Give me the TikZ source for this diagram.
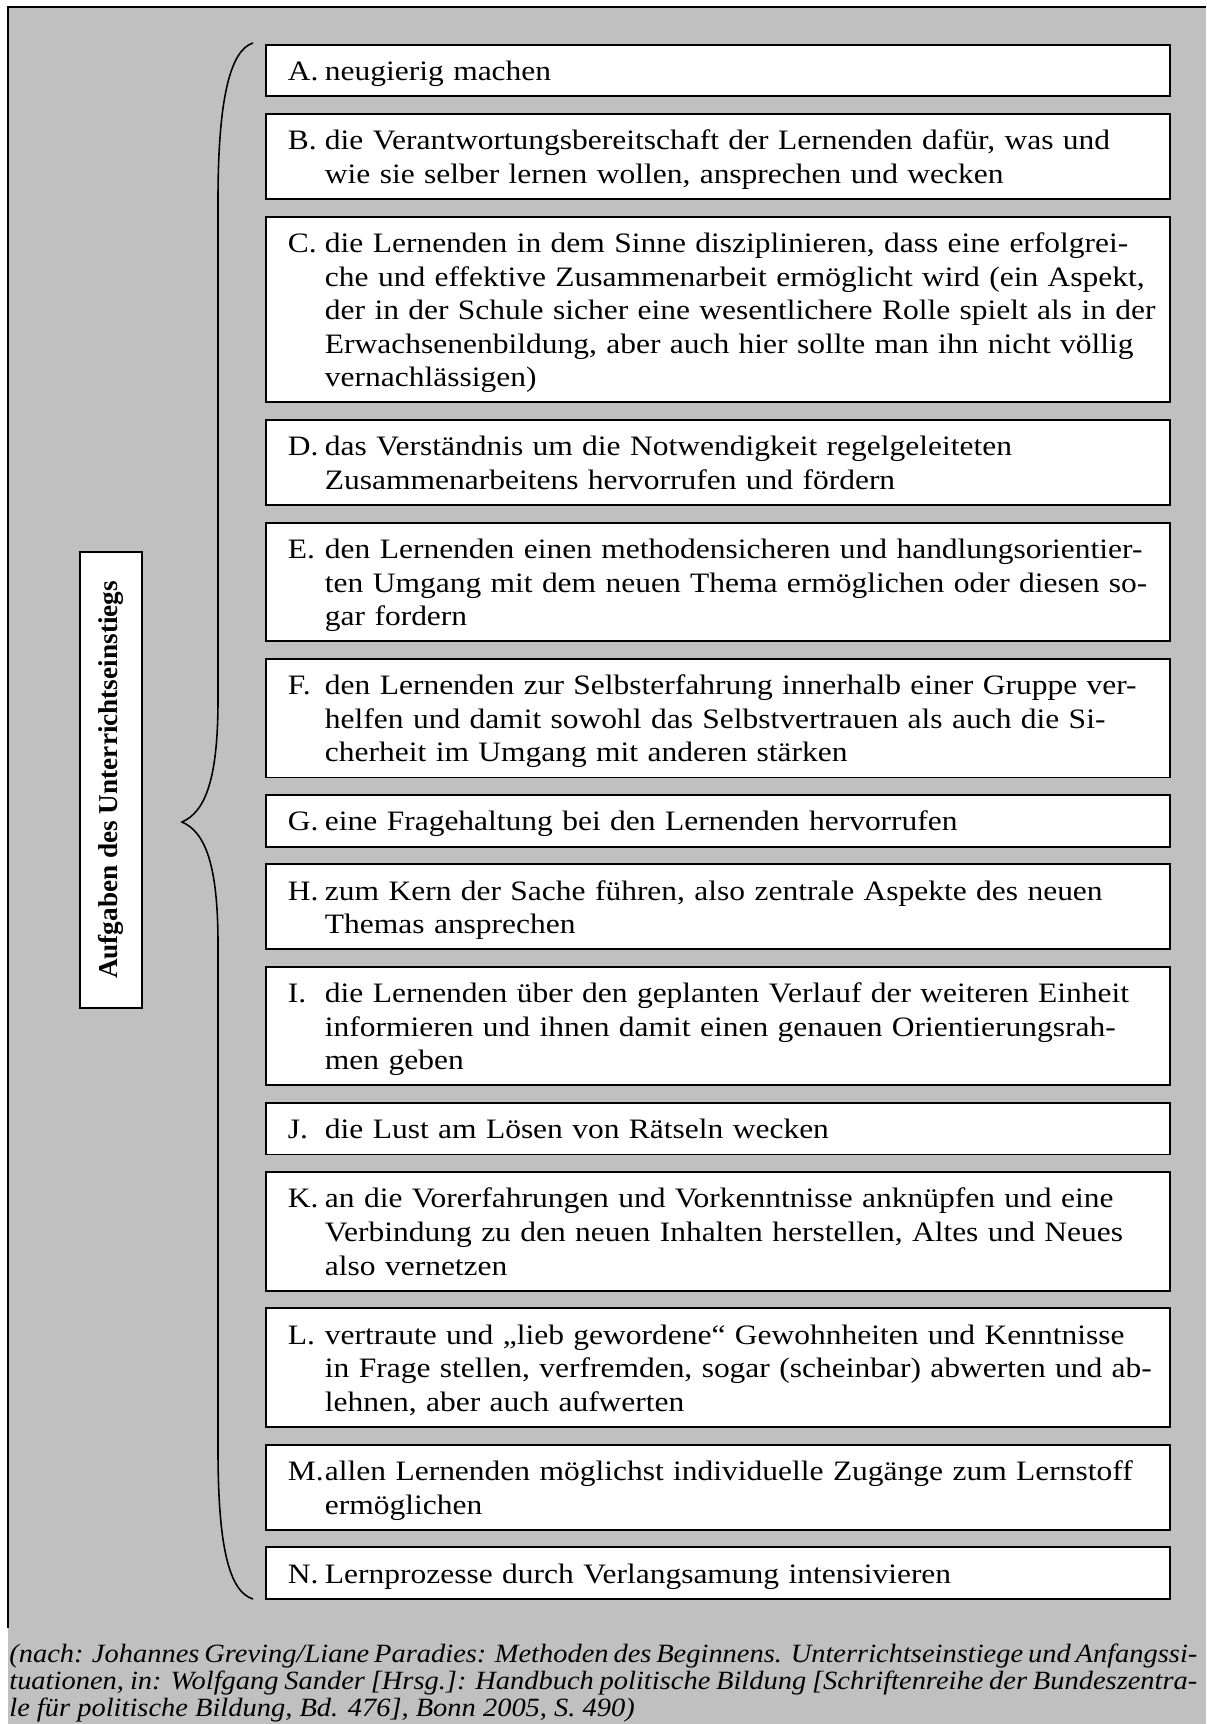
\documentclass[tikz,border=0pt]{standalone}
\usepackage{fontspec}
\setmainfont{Liberation Serif}[FakeStretch=1.12]
\newfontfamily\titelfont{Liberation Serif}
\newfontfamily\quellfont{Liberation Serif}[FakeStretch=1.08]
\usetikzlibrary{positioning}
\definecolor{hgrau}{RGB}{192,192,192}

\newlength\einzug
\setlength\einzug{0.74cm}
\newcommand\stuetze{\rule[-0.2\baselineskip]{0pt}{\baselineskip}}
\newcommand\punkt[2]{\noindent\makebox[\einzug][l]{\stuetze#1}\parbox[t]{17cm}{\raggedright\stuetze#2\stuetze}}

\begin{document}
\begin{tikzpicture}[
node distance = 0.315cm,
aufgabe/.style = {rectangle, draw, line width=1.1pt, fill=white, text width=17.2cm,
  inner xsep=0.44cm, inner ysep=0.178cm, font=\fontsize{16}{19.11}\selectfont},
titel/.style = {rectangle, draw, line width=1.1pt, fill=white, rotate=90,
  minimum width=9.12cm, minimum height=1.24cm, font=\titelfont\bfseries\fontsize{15.5}{18}\selectfont},
quelle/.style = {text width=23.76cm, inner sep=0pt, align=justify,
  font=\quellfont\itshape\fontsize{15}{15.37}\selectfont}
]
\useasboundingbox (0,0) rectangle (24.12,-34.48);
% grauer Rahmen
\fill[hgrau] (0.16,-0.14) rectangle (24.12,-34.48);
\draw[line width=1.1pt] (0.16,-32.56) -- (0.16,-0.14) -- (24.12,-0.14);

  \node[aufgabe, anchor=north west] (a) at (5.30,-0.88) {\punkt{A.}{neugierig machen}};
  \node[aufgabe, below=of a] (b) {\punkt{B.}{die Verantwortungsbereitschaft der Lernenden dafür, was und\\
    wie sie selber lernen wollen, ansprechen und wecken}};
  \node[aufgabe, below=of b] (c) {\punkt{C.}{die Lernenden in dem Sinne disziplinieren, dass eine erfolgrei-\\
    che und effektive Zusammenarbeit ermöglicht wird (ein Aspekt,\\
    der in der Schule sicher eine wesentlichere Rolle spielt als in der\\
    Erwachsenenbildung, aber auch hier sollte man ihn nicht völlig\\
    vernachlässigen)}};
  \node[aufgabe, below=of c] (d) {\punkt{D.}{das Verständnis um die Notwendigkeit regelgeleiteten\\
    Zusammenarbeitens hervorrufen und fördern}};
  \node[aufgabe, below=of d] (e) {\punkt{E.}{den Lernenden einen methodensicheren und handlungsorientier-\\
    ten Umgang mit dem neuen Thema ermöglichen oder diesen so-\\
    gar fordern}};
  \node[aufgabe, below=of e] (f) {\punkt{F.}{den Lernenden zur Selbsterfahrung innerhalb einer Gruppe ver-\\
    helfen und damit sowohl das Selbstvertrauen als auch die Si-\\
    cherheit im Umgang mit anderen stärken}};
  \node[aufgabe, below=of f] (g) {\punkt{G.}{eine Fragehaltung bei den Lernenden hervorrufen}};
  \node[aufgabe, below=of g] (h) {\punkt{H.}{zum Kern der Sache führen, also zentrale Aspekte des neuen\\
    Themas ansprechen}};
  \node[aufgabe, below=of h] (i) {\punkt{I.}{die Lernenden über den geplanten Verlauf der weiteren Einheit\\
    informieren und ihnen damit einen genauen Orientierungsrah-\\
    men geben}};
  \node[aufgabe, below=of i] (j) {\punkt{J.}{die Lust am Lösen von Rätseln wecken}};
  \node[aufgabe, below=of j] (k) {\punkt{K.}{an die Vorerfahrungen und Vorkenntnisse anknüpfen und eine\\
    Verbindung zu den neuen Inhalten herstellen, Altes und Neues\\
    also vernetzen}};
  \node[aufgabe, below=of k] (l) {\punkt{L.}{vertraute und „lieb gewordene“ Gewohnheiten und Kenntnisse\\
    in Frage stellen, verfremden, sogar (scheinbar) abwerten und ab-\\
    lehnen, aber auch aufwerten}};
  \node[aufgabe, below=of l] (m) {\punkt{M.}{allen Lernenden möglichst individuelle Zugänge zum Lernstoff\\
    ermöglichen}};
  \node[aufgabe, below=of m] (n) {\punkt{N.}{Lernprozesse durch Verlangsamung intensivieren}};

  \node[titel] (titel) at (2.22,-15.60) {Aufgaben des Unterrichtseinstiegs};

% geschweifte Klammer
\coordinate (klammer oben) at (5.06,-0.86);
\coordinate (klammer spitze) at (3.64,-16.44);
\coordinate (klammer unten) at (5.06,-31.98);
\draw[line width=0.9pt] (klammer oben) .. controls (4.60,-1.00) and (4.36,-2.00) .. (4.36,-4.00)
  -- (4.36,-14.00) .. controls (4.36,-15.60) and (4.10,-16.24) .. (klammer spitze)
  .. controls (4.10,-16.64) and (4.36,-17.28) .. (4.36,-18.88)
  -- (4.36,-29.00) .. controls (4.36,-31.00) and (4.60,-31.84) .. (klammer unten);

  \node[quelle, anchor=base west] (quelle) at (0.18,-33.24) {(nach: Johannes Greving/Liane Paradies: Methoden des Beginnens. Unterrichtseinstiege und Anfangssi-\linebreak
    tuationen, in: Wolfgang Sander [Hrsg.]: Handbuch politische Bildung [Schriftenreihe der Bundeszentra-\linebreak
    le für politische Bildung, Bd. 476], Bonn 2005, S. 490)};
\end{tikzpicture}
\end{document}
